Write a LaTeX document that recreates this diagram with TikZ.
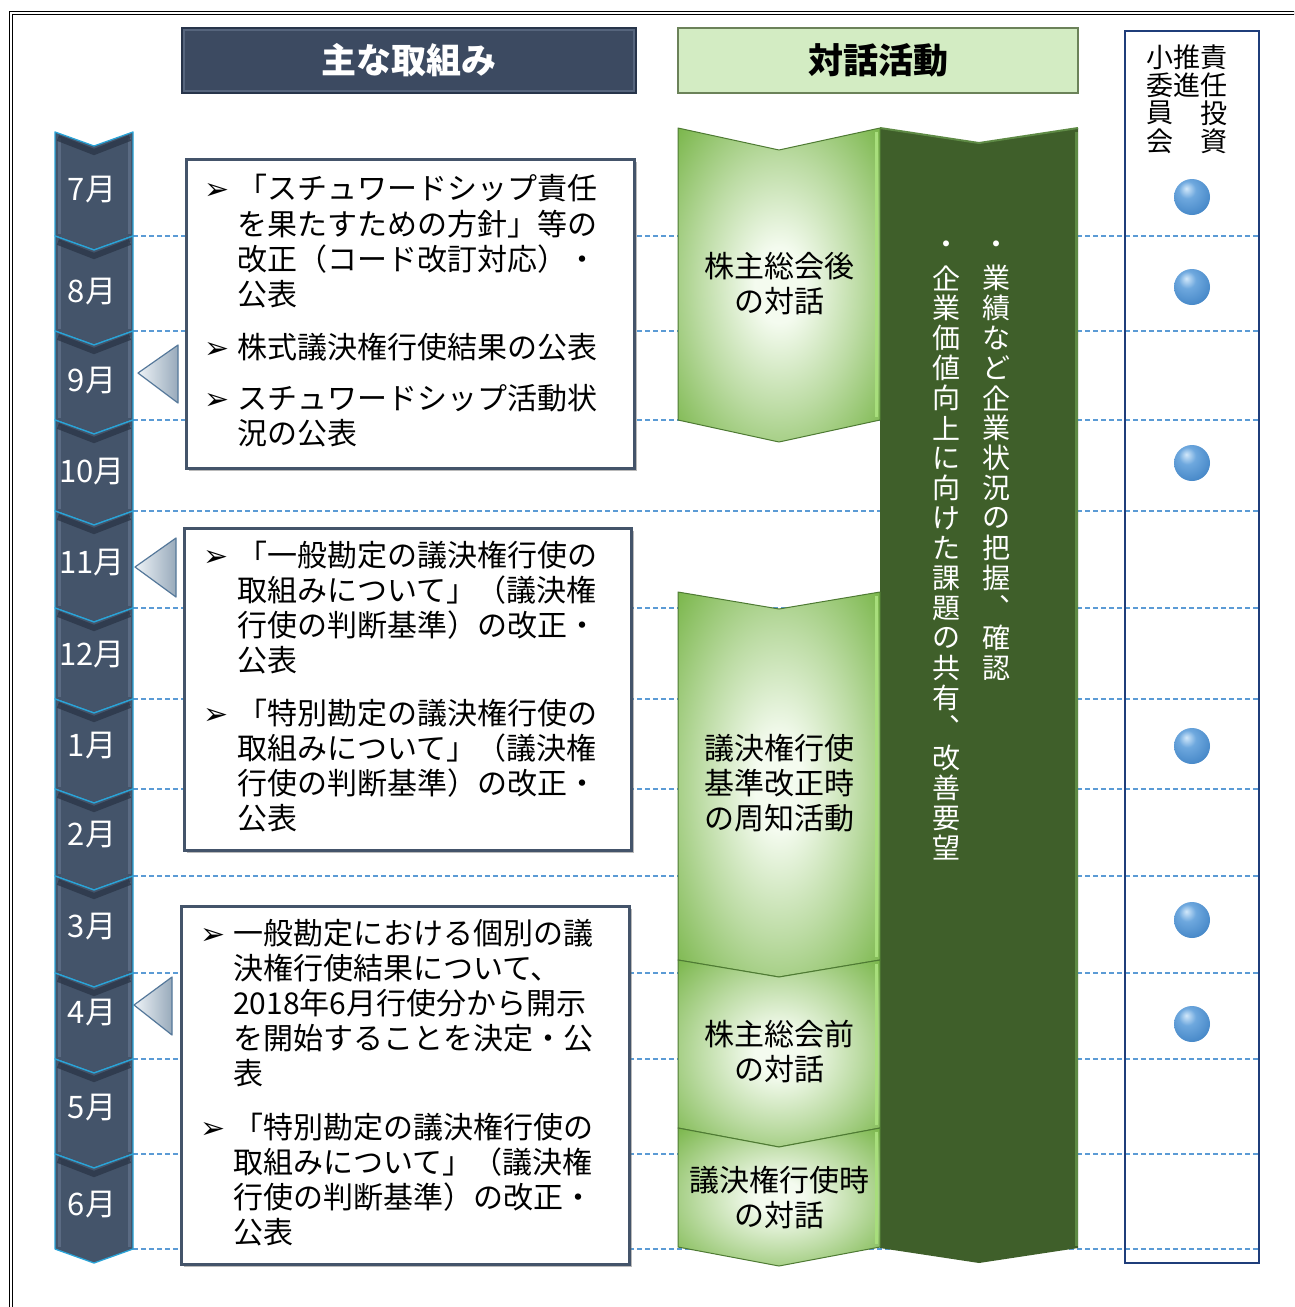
\documentclass[tikz,border=0pt]{standalone}
\usepackage{fontspec}
\setmainfont{Noto Sans CJK JP}
\newfontfamily\bulletfont{DejaVu Sans}
\usetikzlibrary{shadows}
\definecolor{slate}{HTML}{44546A}
\definecolor{slatedark}{HTML}{2A3546}
\definecolor{slatelight}{HTML}{6A7A92}
\definecolor{cyanline}{HTML}{2AA4D8}
\definecolor{dashblue}{HTML}{5B9BD5}
\definecolor{dkgreen}{HTML}{3F5F2A}
\definecolor{dkgreenedge}{HTML}{5E8A45}
\definecolor{ltgreen}{HTML}{78B548}
\definecolor{paleg}{HTML}{F4FBEF}
\definecolor{chevedge}{HTML}{4E7A33}
\definecolor{brightg}{HTML}{A8DE7C}
\definecolor{hdrgreen}{HTML}{D3ECC3}
\definecolor{hdrgreenedge}{HTML}{6B8259}
\definecolor{navy}{HTML}{1F3D7A}
\definecolor{hdrnavy}{HTML}{3C4A61}
\definecolor{hdrnavyedge}{HTML}{27344A}
\definecolor{hdrnavylight}{HTML}{56657D}
\definecolor{ballhi}{HTML}{D2E8FA}
\definecolor{ballmid}{HTML}{6EA8DE}
\definecolor{ballmain}{HTML}{4385C6}
\definecolor{ballrim}{HTML}{2C639E}
\definecolor{ptrlight}{HTML}{EEF3F7}
\definecolor{ptrdark}{HTML}{98AABB}
\definecolor{ptredge}{HTML}{55789A}
\pgfdeclareradialshading{chevsh}{\pgfpoint{0bp}{0bp}}{color(0bp)=(paleg); color(6bp)=(paleg); color(20bp)=(ltgreen!45!paleg); color(36bp)=(ltgreen); color(50bp)=(ltgreen!88!black)}
\pgfdeclareradialshading{ballsh}{\pgfpoint{-8bp}{12bp}}{color(0bp)=(ballhi); color(12bp)=(ballmid); color(34bp)=(ballmain); color(52bp)=(ballrim); color(70bp)=(ballrim)}
\begin{document}
\begin{tikzpicture}[x=1pt,y=-1pt,
  dashline/.style={dashblue, line width=1.5pt, dash pattern=on 5pt off 3pt},
  month/.style={text=white, font=\fontsize{31}{34}\selectfont, inner sep=0pt},
  btxt/.style={anchor=base west, inner sep=0pt, font=\fontsize{30}{34}\selectfont},
  bul/.style={anchor=base west, inner sep=0pt, font=\bulletfont\fontsize{30}{34}\selectfont},
  tbox/.style={draw=slate, line width=2.6pt, fill=white, anchor=north west, inner sep=0pt,
    drop shadow={opacity=.45, shadow xshift=3pt, shadow yshift=-3pt, fill=black!60}},
  ptr/.style={left color=ptrlight, right color=ptrdark, draw=ptredge, line width=1.2pt, line join=round},
  chev/.style={shading=chevsh, draw=chevedge, line width=1pt, line join=round},
  ctxt/.style={font=\fontsize{30}{34}\selectfont, inner sep=0pt},
  vt/.style={text=white, font=\fontsize{28}{30}\selectfont, inner sep=0pt},
  rl/.style={font=\fontsize{27}{30}\selectfont, inner sep=0pt},
  ball/.style={circle, minimum size=36pt, inner sep=0pt, shading=ballsh},
  hdrone/.style={fill=hdrnavy, draw=hdrnavyedge, line width=1.5pt, text=white, inner sep=0pt,
    font=\bfseries\fontsize{35}{38}\selectfont},
  hdrtwo/.style={fill=hdrgreen, draw=hdrgreenedge, line width=1.5pt, text=black, inner sep=0pt,
    font=\bfseries\fontsize{35}{38}\selectfont}
]
\useasboundingbox (0,0) rectangle (1294,1307);
\clip (0,0) rectangle (1294,1307);
\fill[white] (0,0) rectangle (1294,1307);
% outer frame
\draw[double, line width=1.3pt, double distance=1.8pt] (11,13) rectangle (1330,1340);

% dashed month separators
\foreach \yy in {236,331,420,511,608,699,789,876,973,1059,1154,1249}
  \draw[dashline] (133,\yy) -- (1260,\yy);

% right panel
\draw[navy, line width=1.8pt] (1125,31) rectangle (1259,1263);

% timeline
\foreach \t/\b in {132/236,236/331,331/420,420/511,511/608,608/699,699/789,789/876,876/973,973/1059,1059/1154,1154/1249}{
  \fill[slate] (55,\t) -- (94,\t+14) -- (133,\t) -- (133,\b) -- (94,\b+14) -- (55,\b) -- cycle;
  \draw[slatelight, line width=3pt, opacity=.6] (59,\t+6) -- (59,\b-2);
  \draw[slatelight, line width=3pt, opacity=.6] (129,\t+6) -- (129,\b-2);
  \draw[slatedark, line width=6pt, opacity=.75] (58,\t+6) -- (94,\t+20) -- (130,\t+6);
  \draw[cyanline, line width=1.3pt, line join=round] (55,\t) -- (94,\t+14) -- (133,\t) -- (133,\b) -- (94,\b+14) -- (55,\b) -- cycle;
}
\node[month] (m7)  at (92,190)  {7月};
\node[month] (m8)  at (92,292)  {8月};
\node[month] (m9)  at (92,381)  {9月};
\node[month] (m10) at (92,472)  {10月};
\node[month] (m11) at (92,563)  {11月};
\node[month] (m12) at (92,655)  {12月};
\node[month] (m1)  at (92,746)  {1月};
\node[month] (m2)  at (92,835)  {2月};
\node[month] (m3)  at (92,927)  {3月};
\node[month] (m4)  at (92,1013) {4月};
\node[month] (m5)  at (92,1108) {5月};
\node[month] (m6)  at (92,1205) {6月};

% pointers
\draw[ptr] (138,373) -- (178,345) -- (178,403) -- cycle;
\draw[ptr] (135,567) -- (176,538) -- (176,597) -- cycle;
\draw[ptr] (134,1005) -- (172,977) -- (172,1035) -- cycle;

% headers
\node[hdrone, minimum width=454pt, minimum height=65pt] (h1) at (409,60.5) {};
\draw[hdrnavylight, line width=2pt] ([xshift=3pt,yshift=-3pt]h1.north west) rectangle ([xshift=-3pt,yshift=3pt]h1.south east);
\node[hdrone, fill=none, draw=none] (h1t) at (409,60.5) {主な取組み};
\node[hdrtwo, minimum width=400pt, minimum height=65pt] (h2) at (878,60.5) {対話活動};

% text boxes
\node[tbox, minimum width=448pt, minimum height=309pt] (box1) at (185,158) {};
\node[tbox, minimum width=447pt, minimum height=322pt] (box2) at (183,527) {};
\node[tbox, minimum width=448pt, minimum height=358pt] (box3) at (180,905) {};

% box 1 text
\node[bul] (u11) at (204,199) {➢};
\node[btxt] (t111) at (237,199) {「スチュワードシップ責任};
\node[btxt] (t112) at (237,235) {を果たすための方針」等の};
\node[btxt] (t113) at (237,270) {改正（コード改訂対応）・};
\node[btxt] (t114) at (237,305) {公表};
\node[bul] (u12) at (204,358) {➢};
\node[btxt] (t121) at (237,358) {株式議決権行使結果の公表};
\node[bul] (u13) at (204,409) {➢};
\node[btxt] (t131) at (237,409) {スチュワードシップ活動状};
\node[btxt] (t132) at (237,444) {況の公表};

% box 2 text
\node[bul] (u21) at (203,566) {➢};
\node[btxt] (t211) at (237,566) {「一般勘定の議決権行使の};
\node[btxt] (t212) at (237,601) {取組みについて」（議決権};
\node[btxt] (t213) at (237,636) {行使の判断基準）の改正・};
\node[btxt] (t214) at (237,671) {公表};
\node[bul] (u22) at (203,724) {➢};
\node[btxt] (t221) at (237,724) {「特別勘定の議決権行使の};
\node[btxt] (t222) at (237,759) {取組みについて」（議決権};
\node[btxt] (t223) at (237,794) {行使の判断基準）の改正・};
\node[btxt] (t224) at (237,829) {公表};

% box 3 text
\node[bul] (u31) at (200,944) {➢};
\node[btxt] (t311) at (233,944) {一般勘定における個別の議};
\node[btxt] (t312) at (233,979) {決権行使結果について、};
\node[btxt] (t313) at (233,1014) {2018年6月行使分から開示};
\node[btxt] (t314) at (233,1049) {を開始することを決定・公};
\node[btxt] (t315) at (233,1084) {表};
\node[bul] (u32) at (200,1138) {➢};
\node[btxt] (t321) at (233,1138) {「特別勘定の議決権行使の};
\node[btxt] (t322) at (233,1173) {取組みについて」（議決権};
\node[btxt] (t323) at (233,1208) {行使の判断基準）の改正・};
\node[btxt] (t324) at (233,1243) {公表};

% dialogue column: dark green band
\fill[dkgreen] (880,128) -- (979,143) -- (1078,128) -- (1078,1248) -- (979,1263) -- (880,1248) -- cycle;
\draw[dkgreenedge, line width=3pt] (1076,132) -- (1076,1246);
\draw[dkgreenedge, line width=2pt, line join=round] (880,128) -- (979,143) -- (1078,128);

% light green chevrons
\shade[chev] (678,128) -- (779,150) -- (880,128) -- (880,420) -- (779,442) -- (678,420) -- cycle;
\shade[chev] (678,592) -- (779,609) -- (880,592) -- (880,960) -- (779,977) -- (678,960) -- cycle;
\shade[chev] (678,960) -- (779,977) -- (880,960) -- (880,1128) -- (779,1147) -- (678,1128) -- cycle;
\shade[chev] (678,1128) -- (779,1147) -- (880,1128) -- (880,1247) -- (779,1266) -- (678,1247) -- cycle;
\foreach \t/\b in {128/420,592/960,960/1128,1128/1247}
  \draw[brightg, line width=3pt] (876,\t+4) -- (876,\b-3);

\node[ctxt] (c11) at (779,266) {株主総会後};
\node[ctxt] (c12) at (779,301) {の対話};
\node[ctxt] (c21) at (779,748) {議決権行使};
\node[ctxt] (c22) at (779,783) {基準改正時};
\node[ctxt] (c23) at (779,818) {の周知活動};
\node[ctxt] (c31) at (779,1034) {株主総会前};
\node[ctxt] (c32) at (779,1069) {の対話};
\node[ctxt] (c41) at (779,1180) {議決権行使時};
\node[ctxt] (c42) at (779,1215) {の対話};

% vertical texts in dark band
\node[vt] (rdot) at (996,248) {・};
\foreach \c [count=\i from 0] in {業,績,な,ど,企,業,状,況,の,把,握}
  \node[vt] (ra\i) at (996,278+30*\i) {\c};
\node[vt, anchor=base] (rcomma) at (996,618.6) {︑};
\node[vt] (rb1) at (996,638) {確};
\node[vt] (rb2) at (996,668) {認};

\node[vt] (ldot) at (946,248) {・};
\foreach \c [count=\i from 0] in {企,業,価,値,向,上,に,向,け,た,課,題,の,共,有}
  \node[vt] (la\i) at (946,278+30*\i) {\c};
\node[vt, anchor=base] (lcomma) at (946,738.6) {︑};
\node[vt] (lb1) at (946,758) {改};
\node[vt] (lb2) at (946,788) {善};
\node[vt] (lb3) at (946,818) {要};
\node[vt] (lb4) at (946,848) {望};

% right panel label (vertical)
\node[rl] (p1) at (1214,57) {責};
\node[rl] (p2) at (1214,85) {任};
\node[rl] (p3) at (1214,113) {投};
\node[rl] (p4) at (1214,141) {資};
\node[rl] (p5) at (1187,57) {推};
\node[rl] (p6) at (1187,85) {進};
\node[rl] (p7) at (1160,57) {小};
\node[rl] (p8) at (1160,85) {委};
\node[rl] (p9) at (1160,113) {員};
\node[rl] (p10) at (1160,141) {会};

% balls
\node[ball] (b1) at (1192,197) {};
\node[ball] (b2) at (1192,287) {};
\node[ball] (b3) at (1192,463) {};
\node[ball] (b4) at (1192,746) {};
\node[ball] (b5) at (1192,920) {};
\node[ball] (b6) at (1192,1024) {};
\end{tikzpicture}
\end{document}
